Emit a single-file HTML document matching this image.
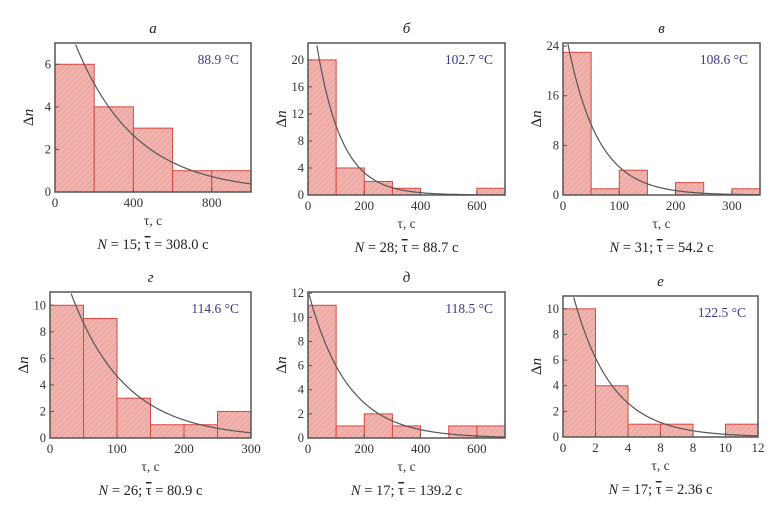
<!DOCTYPE html>
<html><head><meta charset="utf-8"><style>
body{margin:0;background:#fff;}
svg{display:block;font-family:"Liberation Serif",serif;}
</style></head><body>
<svg id="c" width="780" height="517" viewBox="0 0 780 517">
<defs><pattern id="h" width="4" height="4" patternUnits="userSpaceOnUse" patternTransform="rotate(45)"><rect width="4" height="4" fill="#f1b3ae"/><line x1="0" y1="0" x2="0" y2="4" stroke="#e48f89" stroke-width="1"/></pattern></defs>
</svg>
<script>
const titles=["a","б","в","г","д","е"];
const temps=["88.9 °C","102.7 °C","108.6 °C","114.6 °C","118.5 °C","122.5 °C"];
const counts=[[6,4,3,1,1],[20,4,2,1,0,0,1],[23,1,4,0,2,0,1],[10,9,3,1,1,2],[11,1,2,1,0,1,1],[10,4,1,1,0,1]];
const binWidths=[200,100,50,50,100,2];
const nVals=[15,28,31,26,17,17];
const tauVals=["308.0","88.7","54.2","80.9","139.2","2.36"];
const xMaxs=[1000,700,350,300,700,12];
const yMaxs=[7,22.5,24.5,11,12.1,11];
const xTicks=[[0,400,800],[0,200,400,600],[0,100,200,300],[0,100,200,300],[0,200,400,600],[0,2,4,6,8,10,12]];
const xTickLabels=[["0","400","800"],["0","200","400","600"],["0","100","200","300"],["0","100","200","300"],["0","200","400","600"],["0","2","4","8","8","10","12"]];
const yTicks=[[0,2,4,6],[0,4,8,12,16,20],[0,8,16,24],[0,2,4,6,8,10],[0,2,4,6,8,10,12],[0,2,4,6,8,10]];
const boxes=[[55,43,251,192],[308,43,505,195],[563,43,760,195],[50,292,251,438],[308,292,505,438],[563,296,758,437]];
const svg=document.getElementById('c');const NS="http://www.w3.org/2000/svg";
function mk(t,a,p,txt){const e=document.createElementNS(NS,t);for(const k in a)e.setAttribute(k,a[k]);if(txt!==undefined)e.textContent=txt;(p||svg).appendChild(e);return e;}
for(let i=0;i<6;i++){
 const [x0,y0,x1,y1]=boxes[i];
 const g=mk('g',{});
 
 
 const sx=v=>x0+(x1-x0)*v/xMaxs[i], sy=v=>y1-(y1-y0)*v/yMaxs[i];
 counts[i].forEach((c,j)=>{ if(!c) return;
  const r=mk('rect',{x:sx(j*binWidths[i]),y:sy(c),width:sx(binWidths[i])-sx(0),height:y1-sy(c),fill:'url(#h)',stroke:'#d9473f','stroke-width':1},g);
  
  
 });
 const tau=parseFloat(tauVals[i]),A=nVals[i]*binWidths[i]/tau;let d="";
 for(let k=0;k<=200;k++){const t=xMaxs[i]*k/200;let v=A*Math.exp(-t/tau);if(v>yMaxs[i])continue;d+=(d?"L":"M")+sx(t).toFixed(1)+","+sy(v).toFixed(1);}
 const cl=mk('clipPath',{id:'cp'+i},g);mk('rect',{x:x0,y:y0,width:x1-x0,height:y1-y0},cl);
 const p=mk('path',{d:d,fill:'none',stroke:'#555','stroke-width':1.2,'clip-path':'url(#cp'+i+')'},g);
 
 
 const f=mk('rect',{x:x0,y:y0,width:x1-x0,height:y1-y0,fill:'none',stroke:'#555','stroke-width':1.5},g);
 
 
 xTicks[i].forEach((v,j)=>{mk('line',{x1:sx(v),x2:sx(v),y1:y1,y2:y1-4,stroke:'#555'},g);
  const t=mk('text',{x:sx(v),y:y1+15,'text-anchor':'middle','font-size':13,fill:'#333'},g,xTickLabels[i][j]);
  
  });
 yTicks[i].forEach(v=>{mk('line',{x1:x0,x2:x0+4,y1:sy(v),y2:sy(v),stroke:'#555'},g);
  const t=mk('text',{x:x0-4,y:sy(v)+4,'text-anchor':'end','font-size':12.5,fill:'#333'},g,v);
  
  });
 const cx=(x0+x1)/2;
 const tt=mk('text',{x:cx,y:y0-10,'text-anchor':'middle','font-size':15,'font-style':'italic',fill:'#222'},g,titles[i]);
 
 
 const tp=mk('text',{x:x1-12,y:y0+21,'text-anchor':'end','font-size':13.5,fill:'#3a3a8c'},g,temps[i]);
 
 
 const xl=mk('text',{x:cx,y:y1+33,'text-anchor':'middle','font-size':13.5,fill:'#333'},g,'τ, с');
 
 
 const yl=mk('text',{x:0,y:0,transform:`translate(${x0-22},${(y0+y1)/2}) rotate(-90)`,'text-anchor':'middle','font-size':15,fill:'#222'},g);
 yl.innerHTML='Δ<tspan font-style="italic">n</tspan>';
 
 
 const st=mk('text',{x:cx,y:y1+57,'text-anchor':'middle','font-size':14.5,fill:'#222'},g);
 st.innerHTML='<tspan font-style="italic">N</tspan> = '+nVals[i]+'; <tspan text-decoration="overline">τ</tspan> = '+tauVals[i]+' с';
 
 
}
</script>
</body></html>
